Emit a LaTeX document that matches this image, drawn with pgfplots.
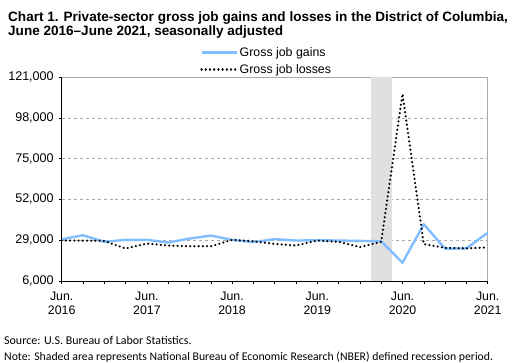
\documentclass[border=0pt]{standalone}
\usepackage{pgfplots}
\pgfplotsset{compat=1.18}
\usepackage{fontspec}
\setmainfont{Liberation Sans}
\newfontfamily\notefont{Carlito}
\definecolor{gainblue}{RGB}{128,190,255}
\definecolor{shade}{RGB}{224,224,224}
\definecolor{gridgray}{RGB}{170,170,170}
\pgfplotstableread{
x gains losses
0 29500 28800
1 31800 28800
2 28100 28600
3 29200 24300
4 29200 27100
5 27700 26000
6 29900 25600
7 31600 25600
8 29200 29200
9 27900 28400
10 29600 26900
11 28800 26000
12 29000 28800
13 28800 28100
14 28600 25100
15 28400 28100
16 16300 111500
17 38000 26800
18 24200 24700
19 24400 24400
20 33200 24900
}\datatable
\begin{document}
\begin{tikzpicture}
\path (0bp,0bp) rectangle (512bp,-363bp);
\node[anchor=base west,font=\fontsize{13.6}{15}\selectfont\bfseries,inner sep=0pt] at (8bp,-21bp) {Chart 1. Private-sector gross job gains and losses in the District of Columbia,};
\node[anchor=base west,font=\fontsize{13.6}{15}\selectfont\bfseries,inner sep=0pt] at (8bp,-35bp) {June 2016--June 2021, seasonally adjusted};
\begin{axis}[
  at={(61.7bp,-281bp)}, anchor=south west,
  scale only axis, width=426bp, height=204bp,
  xmin=0, xmax=20, ymin=6000, ymax=121000,
  ytick={6000,29000,52000,75000,98000,121000},
  yticklabels={{6,000},{29,000},{52,000},{75,000},{98,000},{121,000}},
  xtick={0,...,20},
  xticklabels={Jun.\\2016,,,,Jun.\\2017,,,,Jun.\\2018,,,,Jun.\\2019,,,,Jun.\\2020,,,,Jun.\\2021},
  xticklabel style={align=center,font=\fontsize{12.4}{15}\selectfont,yshift=-4bp},
  yticklabel style={font=\fontsize{12.6}{14}\selectfont,xshift=-1.5bp},
  scaled y ticks=false,
  tick align=outside, major tick length=3bp,
  xtick pos=bottom, ytick pos=left,
  tick style={black, line width=0.6pt},
  axis line style={draw=gridgray, line width=0.6pt},
  ymajorgrids, grid style={gridgray, dashed, line width=0.5pt},
  legend style={at={(0.325,1.156)}, anchor=north west, draw=none, fill=none, inner sep=0pt, row sep=2.5bp, font=\fontsize{12.4}{14}\selectfont, legend cell align=left},
  legend image code/.code={\draw[#1] (0bp,0bp) -- (35bp,0bp);},
  clip=false,
]
\addplot[fill=shade, draw=none, forget plot] coordinates {(14.5,6000) (15.5,6000) (15.5,121000) (14.5,121000)} -- cycle;
\addplot[gainblue, line width=2.4pt, line join=round] table[x=x,y=gains] {\datatable};
\addlegendentry{Gross job gains}
\addplot[black, line width=2.4bp, line cap=round, dash pattern=on 0.01bp off 4.2bp] table[x=x,y=losses] {\datatable};
\addlegendentry{Gross job losses}
\draw[black, line width=0.8pt] (rel axis cs:0,1) -- (rel axis cs:0,0) -- (rel axis cs:1,0);
\end{axis}
\node[anchor=base west,font=\notefont\fontsize{12}{14}\selectfont,inner sep=0pt] at (4bp,-344bp) {Source: U.S. Bureau of Labor Statistics.};
\node[anchor=base west,font=\notefont\fontsize{11.8}{14}\selectfont,inner sep=0pt] at (4bp,-360bp) {Note: Shaded area represents National Bureau of Economic Research (NBER) defined recession period.};
\end{tikzpicture}
\end{document}
